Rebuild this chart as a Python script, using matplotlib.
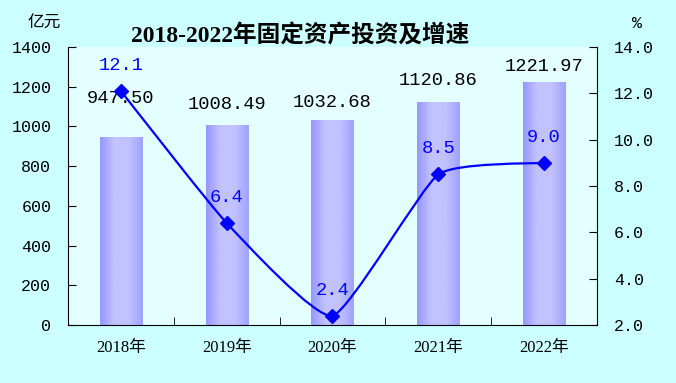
import numpy as np
import matplotlib
matplotlib.use("Agg")
import matplotlib.pyplot as plt
from matplotlib.path import Path
from matplotlib.patches import PathPatch
from matplotlib.colors import LinearSegmentedColormap

years = ["2018年", "2019年", "2020年", "2021年", "2022年"]
investment = [947.50, 1008.49, 1032.68, 1120.86, 1221.97]
growth = [12.1, 6.4, 2.4, 8.5, 9.0]
left_ticks = [0, 200, 400, 600, 800, 1000, 1200, 1400]
right_ticks = [2.0, 4.0, 6.0, 8.0, 10.0, 12.0, 14.0]

num_font = ['Liberation Mono', 'Noto Sans CJK SC']
cjk_font = ['Noto Sans CJK SC', 'DejaVu Sans']
plt.rcParams['font.family'] = ['Liberation Serif', 'Noto Sans CJK SC']

fig = plt.figure(figsize=(6.76, 3.83), dpi=100)
fig.patch.set_facecolor('#CCFFFF')
ax = fig.add_axes([68/676, 1 - 325/383, (597-68)/676, (325-47)/383])
ax.set_facecolor('#E4FFFF')

x = np.arange(len(years))
bar_w = 0.4
bars = ax.bar(x, investment, width=bar_w, color='none', edgecolor='none', zorder=2)
cmap = LinearSegmentedColormap.from_list('bar', ['#9696FF', '#C2C2FF', '#C2C2FF', '#A0A0FF'], N=256)
grad = np.linspace(0, 1, 256).reshape(1, -1)
for b in bars:
    bx, by = b.get_x(), b.get_y()
    bw, bh = b.get_width(), b.get_height()
    im = ax.imshow(grad, cmap=cmap, aspect='auto', extent=(bx, bx + bw, by, by + bh),
                   zorder=2, interpolation='bilinear')
    im.set_clip_path(b)
ax.set_xlim(-0.5, len(years) - 0.5)
ax.set_ylim(0, 1400)

# bar value labels (offsets in data units above bar top)
label_offsets = [195, 100, 90, 110, 80]
for xi, v, off in zip(x, investment, label_offsets):
    ax.text(xi, v + off, f"{v:.2f}", ha='center', va='center', fontsize=13.5,
            family=num_font, color='black', zorder=5)

ax.set_yticks(left_ticks)
ax.set_yticklabels([str(t) for t in left_ticks], family=num_font, fontsize=12)
ax.set_xticks(x)
ax.set_xticklabels(years, family=['Liberation Serif', 'Noto Sans CJK SC'], fontsize=12)
ax.set_xticks(np.arange(len(years) - 1) + 0.5, minor=True)
ax.tick_params(axis='x', which='major', length=0, pad=11)
ax.tick_params(axis='x', which='minor', direction='in', length=6, color='black')
ax.tick_params(axis='y', direction='in', length=6, pad=12)
ax.spines['top'].set_visible(False)
ax.spines['right'].set_visible(False)

ax2 = ax.twinx()
ax2.set_ylim(2.0, 14.0)
ax2.set_yticks(right_ticks)
ax2.set_yticklabels([f"{t:.1f}" for t in right_ticks], family=num_font, fontsize=12)
ax2.tick_params(axis='y', direction='in', length=6, pad=12)
ax2.spines['top'].set_visible(False)
ax2.spines['left'].set_visible(False)
ax2.spines['bottom'].set_visible(False)

# mildly smoothed line via cubic Bezier in display space
fig.canvas.draw()
pts = ax2.transData.transform(np.column_stack([x, growth]))
verts = [pts[0]]
codes = [Path.MOVETO]
k = 0.08
n = len(pts)
for i in range(n - 1):
    p0 = pts[i - 1] if i > 0 else pts[i]
    p1 = pts[i]
    p2 = pts[i + 1]
    p3 = pts[i + 2] if i + 2 < n else pts[i + 1]
    c1 = p1 + (p2 - p0) * k
    c2 = p2 - (p3 - p1) * k
    verts += [c1, c2, p2]
    codes += [Path.CURVE4] * 3
path = Path(verts, codes)
patch = PathPatch(path, facecolor='none', edgecolor='#0000FF', lw=1.6,
                  transform=None, zorder=4)
ax2.add_artist(patch)
ax2.plot(x, growth, linestyle='none', marker='D', markersize=7, color='#0000FF', zorder=5)

for xi, g in zip(x, growth):
    ax2.text(xi, g + 1.1, f"{g:.1f}", ha='center', va='center', fontsize=13.5,
             family=num_font, color='#0000FF', zorder=6)

fig.text(44/676, 1 - 23/383, "亿元", ha='center', va='center', fontsize=12,
         family=cjk_font)
fig.text(637/676, 1 - 24/383, "%", ha='center', va='center', fontsize=12,
         family=num_font)
fig.text(300/676, 1 - 36/383, "2018-2022年固定资产投资及增速", ha='center', va='center',
         fontsize=17, fontweight='bold', family=['Liberation Serif', 'Noto Sans CJK SC'])

fig.savefig('out.png', dpi=100, facecolor=fig.get_facecolor())
